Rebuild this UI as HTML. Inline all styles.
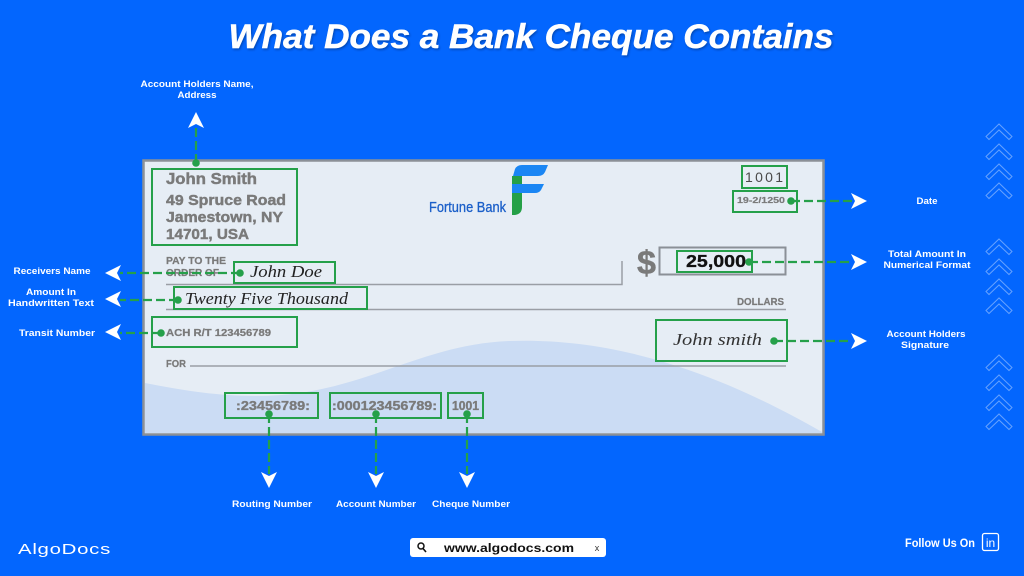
<!DOCTYPE html>
<html><head><meta charset="utf-8"><style>
html,body{margin:0;padding:0;background:#0366fe;}
svg{display:block;}
</style></head><body>
<svg width="1024" height="576" viewBox="0 0 1024 576" xmlns="http://www.w3.org/2000/svg">
<defs>
<filter id="sh" x="-5%" y="-20%" width="110%" height="140%"><feDropShadow dx="1" dy="1.5" stdDeviation="1" flood-color="#00205a" flood-opacity="0.45"/></filter>
<g id="chev"><path d="M0,12.5 L13,0 L26,12.5 L23,15.5 L13,6 L3,15.5 Z" fill="none" stroke="#a8caff" stroke-width="1" stroke-opacity="0.6"/></g>
</defs>
<rect width="1024" height="576" fill="#0366fe"/>

<!-- Title -->
<text x="531" y="48" text-anchor="middle" font-family="Liberation Sans, sans-serif" font-weight="bold" font-style="italic" font-size="34" fill="#fff" stroke="#fff" stroke-width="0.5" textLength="605" lengthAdjust="spacingAndGlyphs" filter="url(#sh)">What Does a Bank Cheque Contains</text>

<!-- Chevrons -->
<g>
<use href="#chev" x="986" y="124"/><use href="#chev" x="986" y="144"/><use href="#chev" x="986" y="164"/><use href="#chev" x="986" y="183"/>
<use href="#chev" x="986" y="239"/><use href="#chev" x="986" y="259"/><use href="#chev" x="986" y="279"/><use href="#chev" x="986" y="298"/>
<use href="#chev" x="986" y="355"/><use href="#chev" x="986" y="375"/><use href="#chev" x="986" y="395"/><use href="#chev" x="986" y="414"/>
</g>

<!-- Cheque -->
<rect x="143.5" y="160.5" width="680" height="274" fill="#e6edf5" stroke="#8b9097" stroke-width="2.5"/>
<path d="M145,383 C200,394 250,400 300,393 C380,381 430,344 510,341 C600,338 700,362 822,432 L822,433 L145,433 Z" fill="#cbdcf4"/>

<!-- Lines on cheque -->
<g stroke="#9a9ea5" stroke-width="1.5" fill="none">
<path d="M166,284.5 L622,284.5 L622,261"/>
<line x1="166" y1="309.5" x2="786" y2="309.5"/>
<line x1="190" y1="366" x2="786" y2="366"/>
</g>

<!-- Name/address -->
<g font-family="Liberation Sans, sans-serif" font-weight="bold" fill="#7a7a7a" stroke="#7a7a7a" stroke-width="0.45">
<text x="166" y="184" font-size="15.5" textLength="91" lengthAdjust="spacingAndGlyphs">John Smith</text>
<text x="166" y="205" font-size="15" textLength="120" lengthAdjust="spacingAndGlyphs">49 Spruce Road</text>
<text x="166" y="222" font-size="15" textLength="117" lengthAdjust="spacingAndGlyphs">Jamestown, NY</text>
<text x="166" y="239" font-size="15" textLength="83" lengthAdjust="spacingAndGlyphs">14701, USA</text>
<text x="166" y="264" font-size="10.5" stroke-width="0.25" textLength="60" lengthAdjust="spacingAndGlyphs">PAY TO THE</text>
<text x="166" y="276" font-size="10.5" stroke-width="0.25" textLength="53" lengthAdjust="spacingAndGlyphs">ORDER OF</text>
<text x="737" y="305" font-size="10.5" stroke-width="0.25" textLength="47" lengthAdjust="spacingAndGlyphs">DOLLARS</text>
<text x="166" y="336" font-size="10.5" stroke-width="0.25" textLength="105" lengthAdjust="spacingAndGlyphs">ACH R/T 123456789</text>
<text x="166" y="367" font-size="10.5" stroke-width="0.25" textLength="20" lengthAdjust="spacingAndGlyphs">FOR</text>
<text x="737" y="203" font-size="8.5" stroke-width="0.2" textLength="48" lengthAdjust="spacingAndGlyphs">19-2/1250</text>
<text x="637" y="274" font-size="33" textLength="19" lengthAdjust="spacingAndGlyphs">$</text>
<text x="236" y="410" font-size="12.5" stroke-width="0.35" textLength="74" lengthAdjust="spacingAndGlyphs">:23456789:</text>
<text x="332" y="410" font-size="12.5" stroke-width="0.35" textLength="105" lengthAdjust="spacingAndGlyphs">:000123456789:</text>
<text x="452" y="410" font-size="12.5" stroke-width="0.35" textLength="27" lengthAdjust="spacingAndGlyphs">1001</text>
</g>
<text x="745" y="182" font-family="Liberation Sans, sans-serif" font-size="14" fill="#4a4a4a" textLength="38" lengthAdjust="spacing">1001</text>
<text x="686" y="267" font-family="Liberation Sans, sans-serif" font-weight="bold" font-size="17.5" fill="#111" stroke="#111" stroke-width="0.3" textLength="60" lengthAdjust="spacingAndGlyphs">25,000</text>

<!-- Handwriting -->
<g font-family="Liberation Serif, serif" font-style="italic" fill="#222">
<text x="250" y="277" font-size="17" textLength="72" lengthAdjust="spacingAndGlyphs">John Doe</text>
<text x="185" y="304" font-size="17" textLength="163" lengthAdjust="spacingAndGlyphs">Twenty Five Thousand</text>
<text x="673" y="345" font-size="17" textLength="89" lengthAdjust="spacingAndGlyphs" fill="#333">John smith</text>
</g>

<!-- Fortune Bank -->
<text x="429" y="212" font-family="Liberation Sans Narrow, Liberation Sans, sans-serif" font-size="15" fill="#1b5fc9" stroke="#1b5fc9" stroke-width="0.3" textLength="77" lengthAdjust="spacingAndGlyphs">Fortune Bank</text>
<path d="M513,176 L515,169 Q517,165 522,165 L548,165 L545,172 Q543,176 538,176 Z" fill="#1a86f4"/>
<rect x="512" y="176" width="10" height="9" fill="#25a047"/>
<path d="M512,184 L544,184 L541,190 Q539,193 535,193 L512,193 Z" fill="#1a86f4"/>
<path d="M512,193 L522,193 L522,207 Q522,214 515,215 L512,215 Z" fill="#25a047"/>

<!-- Boxes -->
<g fill="none" stroke-width="2">
<rect x="659.5" y="247.5" width="126" height="27" stroke="#8b9097"/>
<g stroke="#25a04a">
<rect x="152" y="169" width="145" height="76"/>
<rect x="234" y="262" width="101" height="21"/>
<rect x="174" y="287" width="193" height="22"/>
<rect x="152" y="317" width="145" height="30"/>
<rect x="742" y="166" width="45" height="22"/>
<rect x="733" y="191" width="64" height="21"/>
<rect x="677" y="251" width="75" height="21"/>
<rect x="656" y="320" width="131" height="41"/>
<rect x="225" y="393" width="93" height="25"/>
<rect x="330" y="393" width="111" height="25"/>
<rect x="448" y="393" width="35" height="25"/>
</g>
</g>

<!-- Connectors -->
<g stroke="#25a04a" stroke-width="2.2" stroke-dasharray="9,4" fill="none">
<line x1="196" y1="163" x2="196" y2="126"/>
<line x1="240" y1="273" x2="120" y2="273"/>
<line x1="178" y1="300" x2="120" y2="300"/>
<line x1="161" y1="333" x2="120" y2="333"/>
<line x1="791" y1="201" x2="852" y2="201"/>
<line x1="749" y1="262" x2="852" y2="262"/>
<line x1="774" y1="341" x2="852" y2="341"/>
<line x1="269" y1="414" x2="269" y2="474"/>
<line x1="376" y1="414" x2="376" y2="474"/>
<line x1="467" y1="414" x2="467" y2="474"/>
</g>
<g fill="#25a04a">
<circle cx="196" cy="163" r="3.8"/>
<circle cx="240" cy="273" r="3.8"/>
<circle cx="178" cy="300" r="3.8"/>
<circle cx="161" cy="333" r="3.8"/>
<circle cx="791" cy="201" r="3.8"/>
<circle cx="749" cy="262" r="3.8"/>
<circle cx="774" cy="341" r="3.8"/>
<circle cx="269" cy="414" r="3.8"/>
<circle cx="376" cy="414" r="3.8"/>
<circle cx="467" cy="414" r="3.8"/>
</g>

<!-- Arrowheads -->
<g fill="#fff">
<path d="M196,112 L204,128 L196,124 L188,128 Z"/>
<path d="M105,273 L121,265 L117,273 L121,281 Z"/>
<path d="M105,299 L121,291 L117,299 L121,307 Z"/>
<path d="M105,332 L121,324 L117,332 L121,340 Z"/>
<path d="M867,201 L851,193 L855,201 L851,209 Z"/>
<path d="M867,262 L851,254 L855,262 L851,270 Z"/>
<path d="M867,341 L851,333 L855,341 L851,349 Z"/>
<path d="M269,488 L261,472 L269,476 L277,472 Z"/>
<path d="M376,488 L368,472 L376,476 L384,472 Z"/>
<path d="M467,488 L459,472 L467,476 L475,472 Z"/>
</g>

<!-- Labels -->
<g font-family="Liberation Sans, sans-serif" font-weight="bold" font-size="9.5" fill="#fff" text-anchor="middle">
<text x="197" y="87" textLength="113" lengthAdjust="spacingAndGlyphs">Account Holders Name,</text>
<text x="197" y="98" textLength="39" lengthAdjust="spacingAndGlyphs">Address</text>
<text x="52" y="274" textLength="77" lengthAdjust="spacingAndGlyphs">Receivers Name</text>
<text x="51" y="295" textLength="50" lengthAdjust="spacingAndGlyphs">Amount In</text>
<text x="51" y="306" textLength="86" lengthAdjust="spacingAndGlyphs">Handwritten Text</text>
<text x="57" y="336" textLength="76" lengthAdjust="spacingAndGlyphs">Transit Number</text>
<text x="927" y="204" textLength="21" lengthAdjust="spacingAndGlyphs">Date</text>
<text x="927" y="257" textLength="78" lengthAdjust="spacingAndGlyphs">Total Amount In</text>
<text x="927" y="268" textLength="87" lengthAdjust="spacingAndGlyphs">Numerical Format</text>
<text x="926" y="337" textLength="79" lengthAdjust="spacingAndGlyphs">Account Holders</text>
<text x="925" y="348" textLength="48" lengthAdjust="spacingAndGlyphs">Signature</text>
<text x="272" y="507" textLength="80" lengthAdjust="spacingAndGlyphs">Routing Number</text>
<text x="376" y="507" textLength="80" lengthAdjust="spacingAndGlyphs">Account Number</text>
<text x="471" y="507" textLength="78" lengthAdjust="spacingAndGlyphs">Cheque Number</text>
</g>

<!-- Footer -->
<text x="18" y="554" font-family="Liberation Sans, sans-serif" font-size="14.5" fill="#fff" textLength="93" lengthAdjust="spacingAndGlyphs" letter-spacing="0.5">AlgoDocs</text>
<rect x="410" y="538" width="196" height="19" rx="3" fill="#fff"/>
<circle cx="421" cy="546" r="3" fill="none" stroke="#111" stroke-width="1.5"/>
<line x1="423" y1="548.5" x2="426" y2="552" stroke="#111" stroke-width="1.6"/>
<text x="444" y="552" font-family="Liberation Sans, sans-serif" font-weight="bold" font-size="12" fill="#111" textLength="130" lengthAdjust="spacingAndGlyphs">www.algodocs.com</text>
<text x="597" y="551" font-family="Liberation Sans, sans-serif" font-size="9" fill="#333" text-anchor="middle">x</text>
<text x="905" y="547" font-family="Liberation Sans Narrow, Liberation Sans, sans-serif" font-weight="bold" font-size="11.5" fill="#fff" textLength="70" lengthAdjust="spacingAndGlyphs">Follow Us On</text>
<rect x="982.5" y="533.5" width="16" height="17" rx="2" fill="none" stroke="#fff" stroke-width="1.3"/>
<text x="990.5" y="547" font-family="Liberation Sans, sans-serif" font-size="12" fill="#fff" text-anchor="middle">in</text>
</svg>
</body></html>
